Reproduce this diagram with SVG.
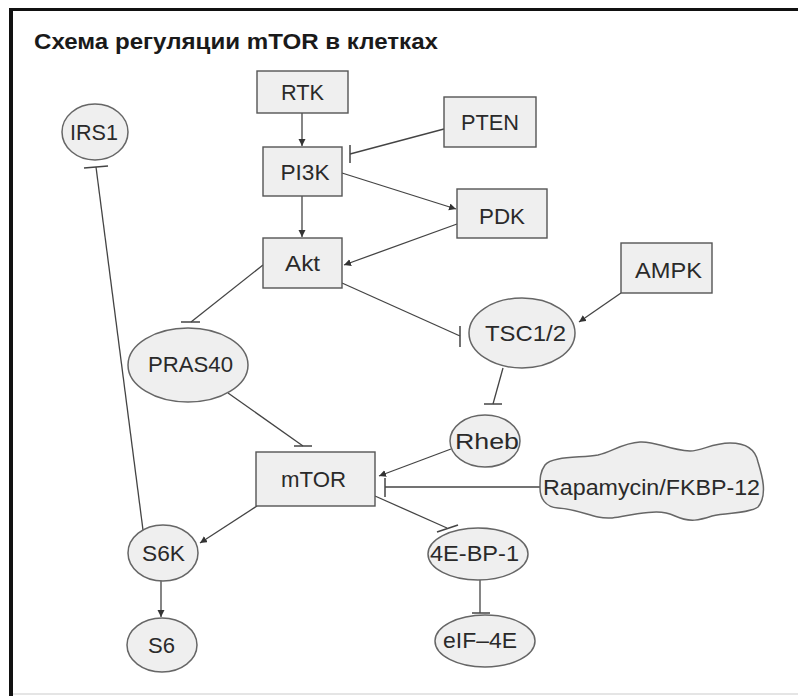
<svg xmlns="http://www.w3.org/2000/svg" width="798" height="696" viewBox="0 0 798 696">
<style>
.box{fill:#efefef;stroke:#555;stroke-width:1.4}
.ell{fill:#efefef;stroke:#666;stroke-width:1.5}
.lbl{font-family:"Liberation Sans",Arial,sans-serif;font-size:22px;fill:#2a2a2a;text-anchor:middle}
.ln{fill:none;stroke:#444;stroke-width:1.3}
.bar{fill:none;stroke:#444;stroke-width:1.5}
.title{font-family:"Liberation Sans",Arial,sans-serif;font-size:22px;font-weight:bold;fill:#1a1a1a}
</style>
<defs>
<marker id="arr" markerUnits="userSpaceOnUse" markerWidth="8" markerHeight="8" refX="7" refY="3.5" orient="auto">
<path d="M0,0 L7,3.5 L0,7 Z" fill="#333"/>
</marker>
</defs>
<rect x="0" y="0" width="798" height="696" fill="#fff"/>
<g id="frame">
<line x1="9" y1="9.5" x2="798" y2="9.5" stroke="#111" stroke-width="3"/>
<line x1="11" y1="8" x2="11" y2="696" stroke="#111" stroke-width="4"/>
<line x1="13" y1="694" x2="798" y2="694" stroke="#ddd" stroke-width="1.5"/>
</g>
<text class="title" x="34" y="49" textLength="404" lengthAdjust="spacingAndGlyphs">Схема регуляции mTOR в клетках</text>

<g id="connectors">
<path class="ln" d="M302,113 L302,146" marker-end="url(#arr)"/>
<path class="ln" d="M444,129 L350,154"/>
<path class="bar" d="M350,145 L350,163"/>
<path class="ln" d="M342,173 L456,209" marker-end="url(#arr)"/>
<path class="ln" d="M302,196 L302,237" marker-end="url(#arr)"/>
<path class="ln" d="M457,224 L344,265" marker-end="url(#arr)"/>
<path class="ln" d="M263,265 L191,322"/>
<path class="bar" d="M181,322 L200,322"/>
<path class="ln" d="M342,283 L460,336"/>
<path class="bar" d="M460,326 L460,347"/>
<path class="ln" d="M621,293 L579,322" marker-end="url(#arr)"/>
<path class="ln" d="M503,368 L493,404"/>
<path class="bar" d="M484,404 L502,404"/>
<path class="ln" d="M451,449 L379,476" marker-end="url(#arr)"/>
<path class="ln" d="M541,487 L385,487"/>
<path class="bar" d="M385,478 L385,497"/>
<path class="ln" d="M375,496 L447,528"/>
<path class="bar" d="M437,532 L458,525"/>
<path class="ln" d="M480,580 L480,613"/>
<path class="bar" d="M472,613 L490,613"/>
<path class="ln" d="M257,506 L200,543" marker-end="url(#arr)"/>
<path class="ln" d="M161,581 L161,617" marker-end="url(#arr)"/>
<path class="ln" d="M143,530 L96,167"/>
<path class="bar" d="M84,168 L108,166"/>
<path class="ln" d="M228,393 L303,446"/>
<path class="bar" d="M294,446 L312,446"/>
</g>

<g id="RTK"><rect class="box" x="257" y="71" width="91" height="42"/><text class="lbl" x="302.5" y="100" textLength="43" lengthAdjust="spacingAndGlyphs">RTK</text></g>
<g id="PI3K"><rect class="box" x="263" y="147" width="79" height="49"/><text class="lbl" x="305" y="180" textLength="49" lengthAdjust="spacingAndGlyphs">PI3K</text></g>
<g id="PTEN"><rect class="box" x="444" y="97" width="92" height="50"/><text class="lbl" x="490" y="130" textLength="58" lengthAdjust="spacingAndGlyphs">PTEN</text></g>
<g id="PDK"><rect class="box" x="457" y="189" width="90" height="49"/><text class="lbl" x="502" y="224" textLength="46" lengthAdjust="spacingAndGlyphs">PDK</text></g>
<g id="Akt"><rect class="box" x="263" y="238" width="79" height="50"/><text class="lbl" x="302.5" y="271" textLength="35" lengthAdjust="spacingAndGlyphs">Akt</text></g>
<g id="AMPK"><rect class="box" x="621" y="243" width="91" height="50"/><text class="lbl" x="668.5" y="278" textLength="67" lengthAdjust="spacingAndGlyphs">AMPK</text></g>
<g id="TSC12"><ellipse class="ell" cx="522" cy="333" rx="53" ry="35"/><text class="lbl" x="525.5" y="341" textLength="81" lengthAdjust="spacingAndGlyphs">TSC1/2</text></g>
<g id="PRAS40"><ellipse class="ell" cx="188" cy="365" rx="60" ry="37"/><text class="lbl" x="190.5" y="372" textLength="85" lengthAdjust="spacingAndGlyphs">PRAS40</text></g>
<g id="Rheb"><ellipse class="ell" cx="485" cy="441" rx="35" ry="26"/><text class="lbl" x="487" y="449" textLength="64" lengthAdjust="spacingAndGlyphs">Rheb</text></g>
<g id="mTOR"><rect class="box" x="256" y="452" width="119" height="54"/><text class="lbl" x="313.5" y="487" textLength="65" lengthAdjust="spacingAndGlyphs">mTOR</text></g>
<g id="Rapamycin"><path class="ell" d="M545,465 C552,456 580,458 598,455 C612,452 622,443 640,442 C656,441 668,450 690,451 C702,451 712,443 730,443 C750,443 756,452 758,462 C762,475 768,495 758,507 C748,514 728,512 712,516 C700,520 690,523 675,516 C662,510 650,512 636,514 C622,516 612,520 598,517 C585,514 575,509 558,508 C545,507 540,498 540,488 C540,478 540,472 545,465 Z"/><text class="lbl" x="651.5" y="495" textLength="217" lengthAdjust="spacingAndGlyphs">Rapamycin/FKBP-12</text></g>
<g id="S6K"><ellipse class="ell" cx="163" cy="553" rx="35" ry="28"/><text class="lbl" x="163.5" y="561" textLength="43" lengthAdjust="spacingAndGlyphs">S6K</text></g>
<g id="S6"><ellipse class="ell" cx="162" cy="645" rx="35" ry="27"/><text class="lbl" x="161.5" y="653" textLength="27" lengthAdjust="spacingAndGlyphs">S6</text></g>
<g id="4EBP1"><ellipse class="ell" cx="478" cy="554" rx="50" ry="26"/><text class="lbl" x="474.5" y="561" textLength="89" lengthAdjust="spacingAndGlyphs">4E-BP-1</text></g>
<g id="eIF4E"><ellipse class="ell" cx="485" cy="641" rx="50" ry="26"/><text class="lbl" x="480" y="648" textLength="74" lengthAdjust="spacingAndGlyphs">eIF–4E</text></g>
<g id="IRS1"><ellipse class="ell" cx="95" cy="132" rx="33" ry="28"/><text class="lbl" x="94" y="140" textLength="48" lengthAdjust="spacingAndGlyphs">IRS1</text></g>
</svg>
